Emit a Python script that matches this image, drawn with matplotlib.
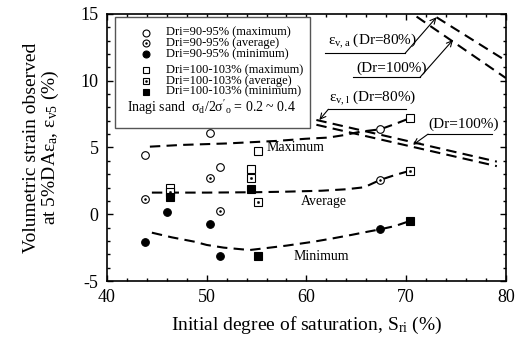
import numpy as np
import matplotlib
matplotlib.use("Agg")
import matplotlib.pyplot as plt
from matplotlib.patches import Rectangle

plt.rcParams['font.family'] = ['Liberation Serif', 'DejaVu Serif']
plt.rcParams['mathtext.fontset'] = 'stix'
plt.rcParams['mathtext.default'] = 'regular'
plt.rcParams['axes.unicode_minus'] = False

# 測定点 (Dri=90-95%)
c_max_x = [43.8, 50.3, 51.3, 67.4]
c_max_y = [4.4, 6.1, 3.55, 6.35]
c_avg_x = [43.8, 50.3, 51.3, 67.4]
c_avg_y = [1.15, 2.75, 0.25, 2.57]
c_min_x = [43.8, 46.0, 50.3, 51.3, 67.4]
c_min_y = [-2.05, 0.2, -0.7, -3.1, -1.13]

# 測定点 (Dri=100-103%)
s_max_x = [46.3, 54.4, 55.1, 70.4]
s_max_y = [1.95, 3.4, 4.75, 7.2]
s_avg_x = [46.3, 54.4, 55.1, 70.4]
s_avg_y = [1.7, 2.7, 0.9, 3.26]
s_min_x = [46.3, 54.4, 55.1, 70.4]
s_min_y = [1.27, 1.9, -3.1, -0.5]

# trend curves
max_x = [44.3, 47.5, 52.0, 57.0, 59.9, 62.2, 63.9, 65.4, 67.4, 68.9, 70.4]
max_y = [5.06, 5.19, 5.3, 5.49, 5.65, 5.74, 5.94, 6.18, 6.36, 6.76, 7.2]
avg_x = [44.5, 50.0, 55.0, 58.0, 61.5, 64.0, 65.8, 67.4, 68.9, 70.4]
avg_y = [1.62, 1.62, 1.65, 1.69, 1.76, 1.87, 2.02, 2.57, 2.94, 3.26]
min_x = [44.5, 46.5, 48.8, 50.0, 51.7, 54.3, 55.8, 58.0, 60.7, 62.7, 64.5, 66.2, 67.4, 68.9, 70.4]
min_y = [-1.38, -1.73, -2.06, -2.3, -2.5, -2.68, -2.55, -2.35, -2.06, -1.8, -1.55, -1.3, -1.13, -0.88, -0.5]

# eps_v,a and eps_v,l lines
eva80_x = [73.05, 80.0]
eva80_y = [14.75, 11.5]
eva100_x = [71.05, 80.0]
eva100_y = [14.8, 10.2]
evl80_x = [61.0, 79.1]
evl80_y = [7.06, 3.94]
evl100_x = [61.0, 79.1]
evl100_y = [6.7, 3.6]

fig = plt.figure(figsize=(5.22, 3.48), dpi=100)
ax = fig.add_axes([0.205, 0.1925, 0.764, 0.7675])

dash = (0, (5, 3))
for xs, ys in [(max_x, max_y), (avg_x, avg_y), (min_x, min_y),
               (eva80_x, eva80_y), (eva100_x, eva100_y),
               (evl80_x, evl80_y), (evl100_x, evl100_y)]:
    ax.plot(xs, ys, color='black', lw=1.5, linestyle=dash, zorder=2)

ms = 5.5
mk = dict(color='black', linestyle='none', markeredgewidth=0.8, zorder=3)
ax.plot(c_max_x, c_max_y, marker='o', markersize=ms, markerfacecolor='white', **mk)
ax.plot(c_avg_x, c_avg_y, marker='o', markersize=ms, markerfacecolor='white', **mk)
ax.plot(c_avg_x, c_avg_y, marker='o', markersize=1.0, **mk)
ax.plot(c_min_x, c_min_y, marker='o', markersize=ms, **mk)
ax.plot(s_max_x, s_max_y, marker='s', markersize=ms, markerfacecolor='white', **mk)
ax.plot(s_avg_x, s_avg_y, marker='s', markersize=ms, markerfacecolor='white', **mk)
ax.plot(s_avg_x, s_avg_y, marker='s', markersize=1.0, **mk)
ax.plot(s_min_x, s_min_y, marker='s', markersize=ms, **mk)

# legend box (manual)
ax.add_patch(Rectangle((0.02, 0.572), 0.489, 0.418, transform=ax.transAxes,
                       facecolor='white', edgecolor='#555555', lw=1.0, zorder=4))
leg_rows = [0.930, 0.890, 0.850, 0.790, 0.749, 0.709]
leg_labels = ["Dri=90-95% (maximum)", "Dri=90-95% (average)", "Dri=90-95% (minimum)",
              "Dri=100-103% (maximum)", "Dri=100-103% (average)", "Dri=100-103% (minimum)"]
leg_style = [('o', 'white', False), ('o', 'white', True), ('o', 'black', False),
             ('s', 'white', False), ('s', 'white', True), ('s', 'black', False)]
for yy, lab, (m, fc, dot) in zip(leg_rows, leg_labels, leg_style):
    ax.plot([0.097], [yy], marker=m, markersize=5, markerfacecolor=fc, markeredgecolor='black',
            markeredgewidth=0.8, linestyle='none', transform=ax.transAxes, zorder=5)
    if dot:
        ax.plot([0.097], [yy], marker=m, markersize=0.8, color='black',
                linestyle='none', transform=ax.transAxes, zorder=6)
    ax.text(0.148, yy, lab, transform=ax.transAxes, fontsize=9, va='center', ha='left', zorder=6)
ax.text(0.05, 0.648, r"Inagi sand  $\sigma_d/2\sigma'_o$ = 0.2 ~ 0.4", transform=ax.transAxes,
        fontsize=10, va='center', ha='left', zorder=6)

# curve labels
ax.text(58.9, 5.0, "Maximum", fontsize=10, ha='center', va='center')
ax.text(61.7, 0.95, "Average", fontsize=10, ha='center', va='center')
ax.text(61.5, -3.2, "Minimum", fontsize=10, ha='center', va='center')

# annotation arrows
arr = dict(arrowstyle='->', lw=0.8, color='black', shrinkA=0, shrinkB=0, mutation_scale=10)
ax.plot([61.85, 69.9], [12.05, 12.05], color='black', lw=0.8)
ax.annotate("", xy=(73.05, 14.75), xytext=(69.9, 12.05), arrowprops=arr)
ax.text(62.2, 12.3, r"$\varepsilon_{v,a}$ (Dr=80%)", fontsize=11, ha='left', va='bottom')
ax.plot([64.66, 71.4], [10.26, 10.26], color='black', lw=0.8)
ax.annotate("", xy=(74.7, 13.05), xytext=(71.4, 10.26), arrowprops=arr)
ax.text(65.0, 10.45, "(Dr=100%)", fontsize=11, ha='left', va='bottom')
ax.plot([62.2, 70.0], [7.86, 7.86], color='black', lw=0.8)
ax.annotate("", xy=(61.3, 7.06), xytext=(62.2, 7.86), arrowprops=arr)
ax.text(62.3, 8.05, r"$\varepsilon_{v,l}$ (Dr=80%)", fontsize=11, ha='left', va='bottom')
ax.plot([72.2, 78.6], [6.0, 6.0], color='black', lw=0.8)
ax.annotate("", xy=(70.7, 5.2), xytext=(72.2, 6.0), arrowprops=arr)
ax.text(72.2, 6.2, "(Dr=100%)", fontsize=11, ha='left', va='bottom')

ax.set_xlim(40, 80)
ax.set_ylim(-5, 15)
ax.set_xticks([40, 50, 60, 70, 80])
ax.set_yticks([-5, 0, 5, 10, 15])
ax.set_xticks(np.arange(40, 81, 2), minor=True)
ax.set_yticks(np.arange(-5, 16, 1), minor=True)
ax.tick_params(which='both', direction='in', top=True, right=True, labelsize=13, width=1.0)
ax.tick_params(which='major', length=4)
ax.tick_params(axis='x', which='major', pad=6)
ax.tick_params(axis='y', which='major', pad=6)
ax.tick_params(which='minor', length=2.2)
for sp in ax.spines.values():
    sp.set_linewidth(1.2)

ax.set_xlabel(r"Initial degree of saturation, S$_{ri}$ (%)", fontsize=14, labelpad=6)
ax.set_ylabel("Volumetric strain observed\n" + r"at 5%DA$\varepsilon_a$, $\varepsilon_{v5}$ (%)",
              fontsize=14, labelpad=14, linespacing=1.0)

fig.savefig("out.png", dpi=100)
